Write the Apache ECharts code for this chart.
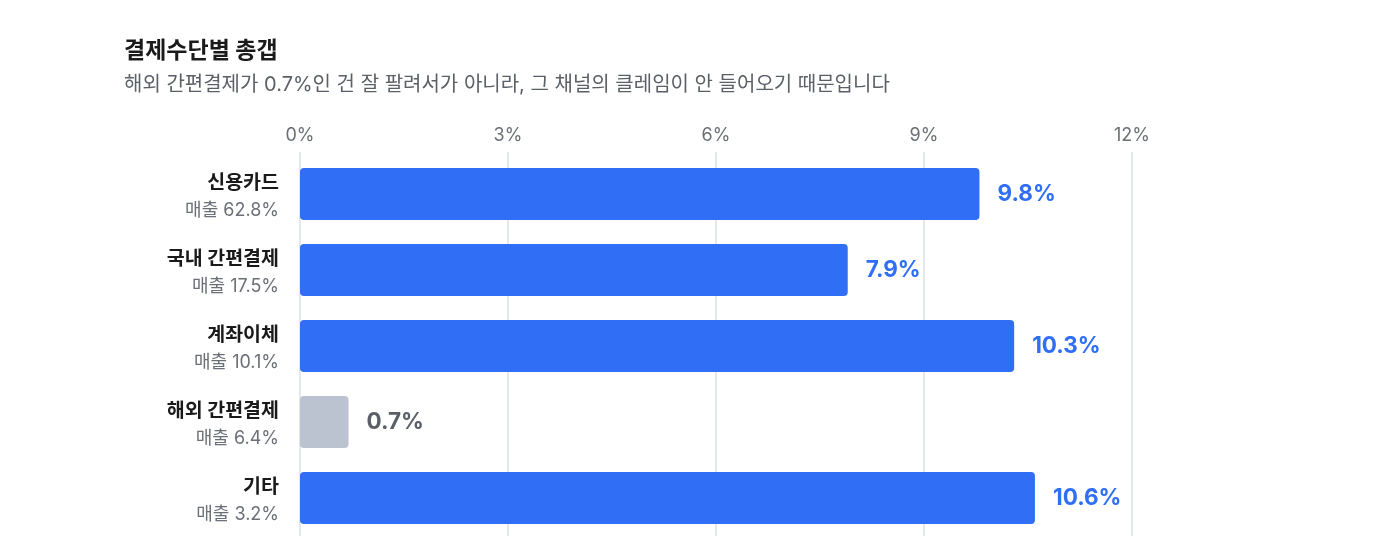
<!DOCTYPE html>
<html><head><meta charset="utf-8">
<script src="https://cdn.jsdelivr.net/npm/echarts@6/dist/echarts.min.js"></script>
<style>html,body{margin:0;padding:0;background:#fff}#c{width:1400px;height:540px}</style>
</head><body><div id="c"></div>
<script>
const categories = ['신용카드', '국내 간편결제', '계좌이체', '해외 간편결제', '기타'];
const salesShare = ['62.8%', '17.5%', '10.1%', '6.4%', '3.2%'];
const gapValues = [9.8, 7.9, 10.3, 0.7, 10.6];
const highlight = [true, true, true, false, true];
const xTicks = [0, 3, 6, 9, 12];

const FONT = 'Inter, "Noto Sans CJK KR", sans-serif';
const BLUE = '#2F6EF5', GRAY = '#BAC3CF';

const chart = echarts.init(document.getElementById('c'));
chart.setOption({
  animation: false,
  textStyle: { fontFamily: FONT },
  title: {
    text: '결제수단별 총갭',
    subtext: '해외 간편결제가 0.7%인 건 잘 팔려서가 아니라, 그 채널의 클레임이 안 들어오기 때문입니다',
    left: 119, top: 35, itemGap: 12,
    textStyle: { fontSize: 23, fontWeight: 'bold', color: '#1a1a1a', fontFamily: FONT },
    subtextStyle: { fontSize: 20, color: '#5b5f66', fontFamily: FONT }
  },
  grid: { left: 300, right: 268, top: 156, bottom: 4, containLabel: false },
  xAxis: {
    type: 'value', position: 'top', min: xTicks[0], max: xTicks[xTicks.length - 1], interval: 3,
    axisLine: { show: false },
    axisTick: { show: true, length: 4, lineStyle: { color: '#E3E7EC', width: 2 } },
    splitLine: { show: true, lineStyle: { color: '#E3E7EC', width: 2 } },
    axisLabel: { formatter: v => v + '%', fontSize: 18, color: '#6b6f76', margin: 11, fontFamily: FONT }
  },
  yAxis: {
    type: 'category', inverse: true, data: categories,
    axisLine: { show: false }, axisTick: { show: false },
    axisLabel: {
      margin: 21, align: 'right', padding: [6, 0, 0, 0],
      formatter: (v, i) => '{n|' + v + '}\n{s|매출 ' + salesShare[i] + '}',
      rich: {
        n: { fontSize: 19.5, fontWeight: 'bold', color: '#1a1a1a', lineHeight: 27, align: 'right', fontFamily: FONT },
        s: { fontSize: 18, color: '#6b6f76', lineHeight: 27, align: 'right', fontFamily: FONT }
      }
    }
  },
  series: [{
    type: 'bar', barWidth: 52,
    data: gapValues.map((v, i) => ({
      value: v,
      itemStyle: { color: highlight[i] ? BLUE : GRAY, borderRadius: 4 },
      label: { color: highlight[i] ? BLUE : '#5b6068' }
    })),
    label: {
      show: true, position: 'right', distance: 18,
      formatter: p => p.value + '%',
      fontSize: 22.5, fontWeight: 'bold', fontFamily: FONT
    }
  }]
});
</script></body></html>
